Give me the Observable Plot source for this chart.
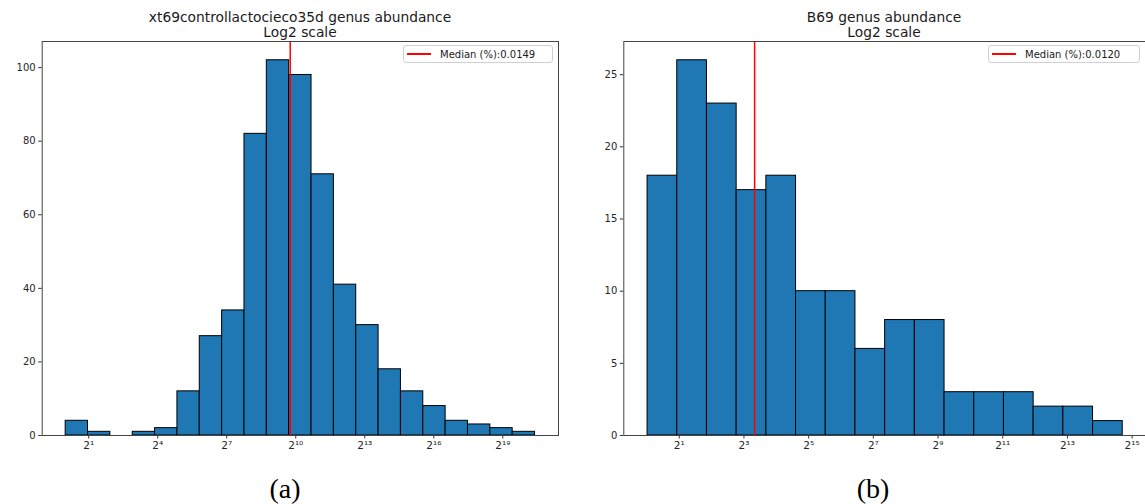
<!DOCTYPE html>
<html>
<head>
<meta charset="utf-8">
<script src="https://cdn.jsdelivr.net/npm/d3@7"></script>
<script src="https://cdn.jsdelivr.net/npm/@observablehq/plot@0.6"></script>
<style>
  html, body { margin: 0; padding: 0; background: white; width: 1145px; height: 504px; overflow: hidden; }
  #root { position: relative; width: 1145px; height: 504px; overflow: hidden; }
  .panel { position: absolute; top: 0; }
  .panel svg { max-width: none !important; }
  .title { position: absolute; font-family: "DejaVu Sans", sans-serif; font-size: 13.8px; color: #1a1a1a; text-align: center; line-height: 15px; white-space: nowrap; transform: translateX(-50%); }
  .legend { position: absolute; box-sizing: border-box; border: 1px solid #d0d0d0; border-radius: 3px; background: rgba(255,255,255,0.85); font-family: "DejaVu Sans", sans-serif; font-size: 10px; color: #1a1a1a; display: flex; align-items: center; white-space: nowrap; }
  .legend .swatch { display: inline-block; height: 1.5px; background: #ff0000; }
  .caption { position: absolute; font-family: "Liberation Serif", "DejaVu Serif", serif; font-size: 28px; color: #000; transform: translateX(-50%); white-space: nowrap; line-height: 30px; }
</style>
</head>
<body>
<div id="root"></div>
<script>
// ---------------- data ----------------
// Panel (a): xt69controllactocieco35d
const titleA = "xt69controllactocieco35d genus abundance";
const countsA = [4, 1, 0, 1, 2, 12, 27, 34, 82, 102, 98, 71, 41, 30, 18, 12, 8, 4, 3, 2, 1];
const log2RangeA = [0, 20.4];          // log2 of smallest and largest abundance (bin range)
const medianLog2A = 9.76;              // position of median line (log2)
const medianLabelA = "Median (%):0.0149";
const xTicksA = [1, 4, 7, 10, 13, 16, 19];
const yTicksA = [0, 20, 40, 60, 80, 100];

// Panel (b): B69
const titleB = "B69 genus abundance";
const countsB = [18, 26, 23, 17, 18, 10, 10, 6, 8, 8, 3, 3, 3, 2, 2, 1];
const log2RangeB = [0.02, 14.71];
const medianLog2B = 3.33;
const medianLabelB = "Median (%):0.0120";
const xTicksB = [1, 3, 5, 7, 9, 11, 13, 15];
const yTicksB = [0, 5, 10, 15, 20, 25];

const subtitle = "Log2 scale";
const captions = ["(a)", "(b)"];

// ---------------- helpers ----------------
const SUP = {"0":"⁰","1":"¹","2":"²","3":"³","4":"⁴","5":"⁵","6":"⁶","7":"⁷","8":"⁸","9":"⁹","-":"⁻"};
const pow2 = n => "2" + String(n).split("").map(c => SUP[c]).join("");

function binsFrom(counts, range) {
  const [lo, hi] = range;
  const w = (hi - lo) / counts.length;
  return counts.map((c, i) => ({x1: lo + i * w, x2: lo + (i + 1) * w, count: c}));
}

function histPlot({counts, range, median, xTicks, yTicks, width, height, marginLeft, marginRight, marginTop, marginBottom}) {
  const bins = binsFrom(counts, range);
  const span = range[1] - range[0];
  const xDomain = [range[0] - 0.05 * span, range[1] + 0.05 * span];
  const yMax = d3.max(counts) * 1.05;
  const marks = [
    Plot.rectY(bins, {x1: "x1", x2: "x2", y: "count", fill: "#1f77b4", stroke: "#000", strokeWidth: 1, inset: 0}),
    Plot.ruleX([median], {stroke: "#ff0000", strokeWidth: 1.5}),
    Plot.axisX({ticks: xTicks, tickFormat: pow2, tickSize: 3.5, tickPadding: 3, fontSize: 10.5, stroke: "#333"}),
    Plot.axisY({ticks: yTicks, tickSize: 3.5, tickPadding: 3, fontSize: 10, stroke: "#333"}),
    Plot.frame({stroke: "#444", strokeWidth: 1})
  ];
  const svg = Plot.plot({
    width, height, marginLeft, marginRight, marginTop, marginBottom,
    style: {fontFamily: "DejaVu Sans, sans-serif", fontSize: "10px", color: "#262626", background: "white", overflow: "visible"},
    x: {type: "linear", domain: xDomain, label: null},
    y: {domain: [0, yMax], label: null},
    marks
  });
  svg.style.maxWidth = "none";
  return svg;
}

const root = document.getElementById("root");

function addPanel({left, svg, title, titleX, legendLabel, legendBox, caption, captionX}) {
  const p = document.createElement("div");
  p.className = "panel";
  p.style.left = left + "px";
  p.style.width = svg.getAttribute("width") + "px";
  p.appendChild(svg);
  root.appendChild(p);

  const t = document.createElement("div");
  t.className = "title";
  t.style.left = titleX + "px";
  t.style.top = "10px";
  t.innerHTML = title + "<br>" + subtitle;
  root.appendChild(t);

  const lg = document.createElement("div");
  lg.className = "legend";
  lg.style.left = legendBox.x + "px";
  lg.style.top = legendBox.y + "px";
  lg.style.width = legendBox.w + "px";
  lg.style.height = legendBox.h + "px";
  lg.style.paddingLeft = "3px";
  const sw = document.createElement("span");
  sw.className = "swatch";
  sw.style.width = "24px";
  sw.style.marginRight = "9px";
  lg.appendChild(sw);
  lg.appendChild(document.createTextNode(legendLabel));
  root.appendChild(lg);

  const c = document.createElement("div");
  c.className = "caption";
  c.style.left = captionX + "px";
  c.style.top = "474px";
  c.textContent = caption;
  root.appendChild(c);
}

const svgA = histPlot({counts: countsA, range: log2RangeA, median: medianLog2A, xTicks: xTicksA, yTicks: yTicksA,
  width: 572, height: 460, marginLeft: 41.7, marginRight: 14, marginTop: 41, marginBottom: 25});
addPanel({left: 0, svg: svgA, title: titleA, titleX: 300, legendLabel: medianLabelA,
  legendBox: {x: 403, y: 45, w: 150, h: 18}, caption: captions[0], captionX: 285});

const svgB = histPlot({counts: countsB, range: log2RangeB, median: medianLog2B, xTicks: xTicksB, yTicks: yTicksB,
  width: 580, height: 460, marginLeft: 43.3, marginRight: 14, marginTop: 41, marginBottom: 25});
addPanel({left: 580, svg: svgB, title: titleB, titleX: 884, legendLabel: medianLabelB,
  legendBox: {x: 988, y: 45, w: 152, h: 18}, caption: captions[1], captionX: 873});
</script>
</body>
</html>
